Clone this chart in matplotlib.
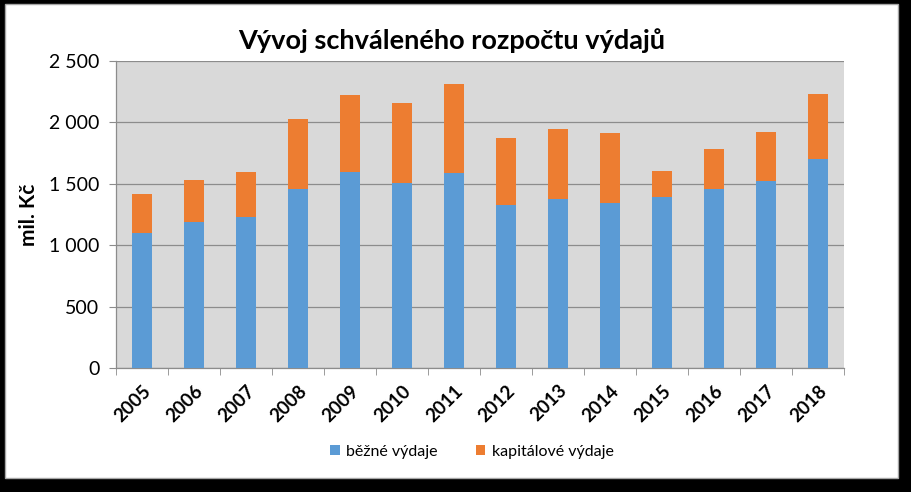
import numpy as np
import matplotlib
matplotlib.use("Agg")
import matplotlib.pyplot as plt
from matplotlib.patches import Rectangle
from matplotlib.ticker import FuncFormatter, FixedLocator

plt.rcParams["font.family"] = ["Lato", "DejaVu Sans"]

################################################################
########################### Data ###############################
################################################################

years = ["2005", "2006", "2007", "2008", "2009", "2010", "2011",
         "2012", "2013", "2014", "2015", "2016", "2017", "2018"]
bezne = [1100, 1190, 1230, 1460, 1600, 1510, 1585,
         1325, 1380, 1345, 1395, 1455, 1525, 1700]
kapitalove = [320, 340, 370, 570, 620, 645, 730,
              545, 570, 570, 210, 325, 395, 535]

title = "Vývoj schváleného rozpočtu výdajů"
ylabel = "mil. Kč"
series_names = ["běžné výdaje", "kapitálové výdaje"]

BLUE = "#5b9bd5"
ORANGE = "#ed7d31"
GRID = "#8c8c8c"

################################################################
########################### Plot ###############################
################################################################

fig = plt.figure(figsize=(9.11, 4.92), dpi=100)
fig.patch.set_facecolor("black")

# white chart area inside the black frame
fig.patches.append(Rectangle((5/911, 14/492), 893/911, 474/492,
                             transform=fig.transFigure, facecolor="white",
                             edgecolor="#a6a6a6", linewidth=1.0, zorder=-10))

ax = fig.add_axes([116/911, 124/492, 728/911, 307/492])
ax.set_facecolor("#d9d9d9")

x = np.arange(len(years))
ax.bar(x, bezne, width=0.4, color=BLUE, label=series_names[0], zorder=3)
ax.bar(x, kapitalove, width=0.4, bottom=bezne, color=ORANGE,
       label=series_names[1], zorder=3)

ax.set_xlim(-0.5, len(years) - 0.5)
ax.set_ylim(0, 2500)
ax.set_yticks(np.arange(0, 2501, 500))
ax.yaxis.set_major_formatter(FuncFormatter(
    lambda v, p: "{:,.0f}".format(v).replace(",", " ")))
ax.grid(axis="y", color=GRID, linewidth=0.9, zorder=1)
ax.set_axisbelow(True)

for s in ["top", "right"]:
    ax.spines[s].set_visible(False)
for s in ["left", "bottom"]:
    ax.spines[s].set_color(GRID)
    ax.spines[s].set_linewidth(0.9)

ax.tick_params(axis="y", length=5, color=GRID, labelsize=14, pad=7)
ax.set_xticks(x)
ax.set_xticklabels(years, rotation=45, ha="right", rotation_mode="anchor",
                   fontweight="bold", fontsize=13.5)
ax.tick_params(axis="x", length=0, pad=10)
ax.xaxis.set_minor_locator(FixedLocator(np.arange(-0.5, len(years), 1.0)))
ax.tick_params(axis="x", which="minor", length=5, color=GRID)

ax.set_ylabel(ylabel, fontsize=15, fontweight="bold", labelpad=7)

fig.text(0.496, 0.918, title, ha="center", va="center",
         fontsize=19.5, fontweight="bold")

fig.legend(loc="center", bbox_to_anchor=(0.518, 0.082), ncol=2,
           frameon=False, fontsize=11.5, handlelength=0.6, handleheight=0.6,
           handletextpad=0.4, columnspacing=2.4)

plt.savefig("out.png", dpi=100, facecolor=fig.get_facecolor())
